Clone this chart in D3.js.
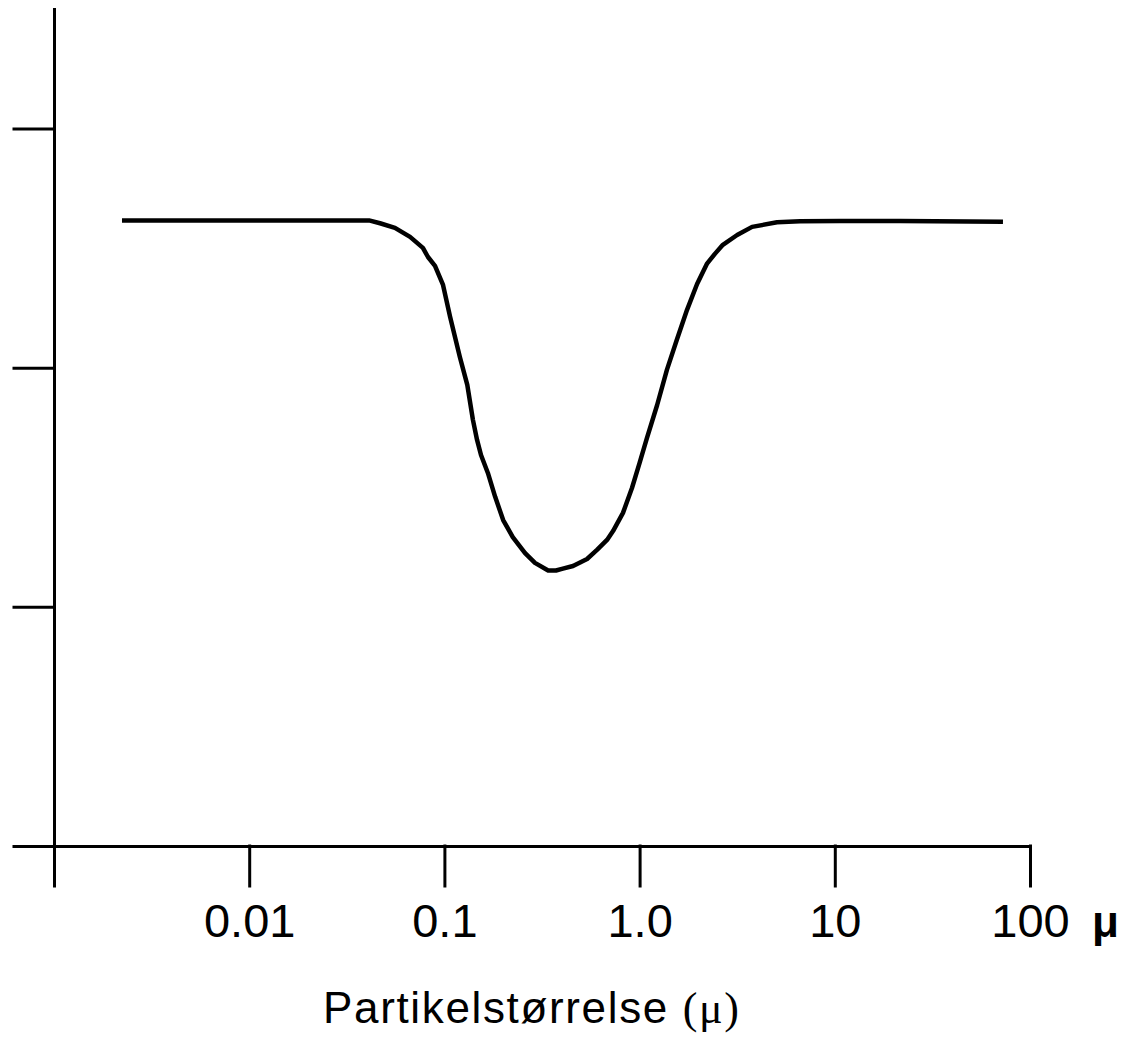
<!DOCTYPE html>
<html>
<head>
<meta charset="utf-8">
<script src="https://cdn.jsdelivr.net/npm/d3@7"></script>
<style>
    body { margin: 0; background: #fff; }
</style>
</head>
<body>
<script>
// particle size (micron) and relative value
const sizes = [0.00223, 0.0411, 0.0468, 0.0558, 0.0667, 0.0776, 0.0824, 0.0895, 0.0984, 0.107,
    0.120, 0.131, 0.140, 0.147, 0.154, 0.167, 0.182, 0.200, 0.224, 0.259,
    0.291, 0.340, 0.373, 0.400, 0.456, 0.538, 0.605, 0.681, 0.731, 0.822,
    0.914, 1.00, 1.09, 1.23, 1.38, 1.55, 1.75, 1.97, 2.21, 2.43,
    2.67, 3.16, 3.77, 5.06, 6.64, 10.6, 21.6, 72.7];
const values = [2.616, 2.616, 2.604, 2.585, 2.547, 2.501, 2.463, 2.426, 2.346, 2.212,
    2.045, 1.928, 1.782, 1.698, 1.635, 1.560, 1.460, 1.363, 1.292, 1.225,
    1.184, 1.152, 1.152, 1.159, 1.171, 1.200, 1.238, 1.280, 1.317, 1.393,
    1.497, 1.602, 1.706, 1.844, 1.991, 2.116, 2.242, 2.350, 2.434, 2.476,
    2.514, 2.555, 2.589, 2.608, 2.612, 2.614, 2.614, 2.610];

const xTicks = [0.001, 0.01, 0.1, 1, 10, 100];
const xTickLabels = ["", "0.01", "0.1", "1.0", "10", "100"];
const yTicks = [0, 1, 2, 3];
const xTitle = "Partikelstørrelse ";
const unit = "μ";

const width = 1128;
const height = 1040;

let svg = d3.select("body").append("svg")
    .attr("width", width)
    .attr("height", height);

let xScale = d3.scaleLog()
    .domain([0.001, 100])
    .range([54, 1030]);

let yScale = d3.scaleLinear()
    .domain([0, 3.5])
    .range([846, 9]);

let data = sizes.map((s, i) => ({size: s, value: values[i]}));

// y axis: ticks pointing left, no labels
let yAxis = svg.append("g")
    .attr("transform", "translate(54,0)")
    .call(d3.axisLeft(yScale)
        .tickValues(yTicks)
        .tickSize(40)
        .tickSizeOuter(0)
        .tickFormat(""));

// x axis: ticks pointing down
let xAxis = svg.append("g")
    .attr("transform", "translate(0,846)")
    .call(d3.axisBottom(xScale)
        .tickValues(xTicks)
        .tickSize(40)
        .tickSizeOuter(0)
        .tickFormat((d, i) => xTickLabels[i]));

svg.selectAll(".domain, .tick line")
    .attr("stroke", "#000")
    .attr("stroke-width", 3)
    .attr("stroke-linecap", "square");

xAxis.selectAll(".tick text")
    .attr("y", 91)
    .attr("dy", 0)
    .attr("fill", "#000")
    .style("font-family", "'Liberation Sans', Arial, sans-serif")
    .style("font-size", "47px");

// unit after the last tick label
svg.append("text")
    .attr("x", xScale(100) + 62)
    .attr("y", 937)
    .attr("fill", "#000")
    .style("font-family", "'Liberation Sans', Arial, sans-serif")
    .style("font-size", "44px")
    .style("font-weight", "bold")
    .text(unit);

// axis title
let title = svg.append("text")
    .attr("x", 323)
    .attr("y", 1023)
    .attr("fill", "#000")
    .attr("textLength", 416)
    .attr("lengthAdjust", "spacing")
    .style("font-family", "'Liberation Sans', Arial, sans-serif")
    .style("font-size", "44px");
title.append("tspan").text(xTitle);
title.append("tspan")
    .style("font-family", "'Liberation Serif', 'Times New Roman', serif")
    .text("(" + unit + ")");

let line = d3.line()
    .x(d => xScale(d.size))
    .y(d => yScale(d.value));

svg.append("path")
    .datum(data)
    .attr("fill", "none")
    .attr("stroke", "#000")
    .attr("stroke-width", 4.5)
    .attr("stroke-linejoin", "round")
    .attr("d", line);
</script>
</body>
</html>
